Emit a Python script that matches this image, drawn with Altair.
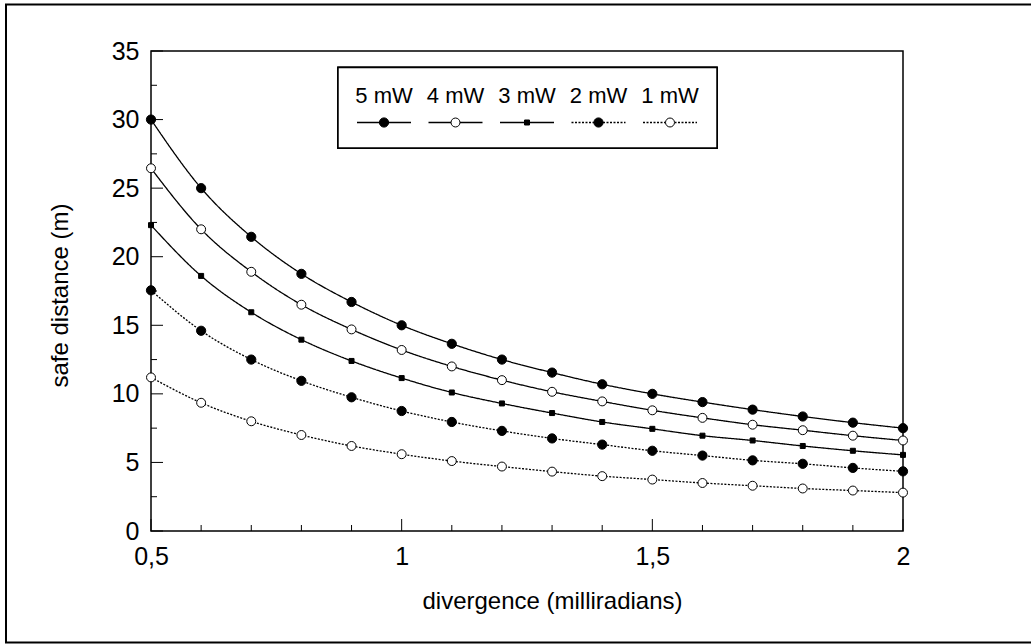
import altair as alt
import pandas as pd

# ---- data ----
divergence = [0.5, 0.6, 0.7, 0.8, 0.9, 1.0, 1.1, 1.2, 1.3, 1.4, 1.5, 1.6, 1.7, 1.8, 1.9, 2.0]
p5 = [30.0, 25.0, 21.45, 18.75, 16.7, 15.0, 13.65, 12.5, 11.55, 10.7, 10.0, 9.4, 8.85, 8.35, 7.9, 7.5]
p4 = [26.45, 22.0, 18.9, 16.5, 14.7, 13.2, 12.0, 11.0, 10.15, 9.45, 8.8, 8.25, 7.75, 7.35, 6.95, 6.6]
p3 = [22.3, 18.6, 15.95, 13.95, 12.4, 11.15, 10.1, 9.3, 8.6, 7.95, 7.45, 6.95, 6.6, 6.2, 5.85, 5.55]
p2 = [17.55, 14.6, 12.5, 10.95, 9.75, 8.75, 7.95, 7.3, 6.75, 6.3, 5.85, 5.5, 5.15, 4.9, 4.6, 4.35]
p1 = [11.2, 9.35, 8.0, 7.0, 6.2, 5.6, 5.1, 4.7, 4.33, 4.0, 3.75, 3.5, 3.3, 3.1, 2.95, 2.8]
series = ["5 mW", "4 mW", "3 mW", "2 mW", "1 mW"]

x_label_values = [0.5, 1.0, 1.5, 2.0]
x_minor_ticks = [0.6, 0.7, 0.8, 0.9, 1.1, 1.2, 1.3, 1.4, 1.6, 1.7, 1.8, 1.9]
y_label_values = [0, 5, 10, 15, 20, 25, 30, 35]
y_minor_ticks = [2.5, 7.5, 12.5, 17.5, 22.5, 27.5, 32.5]

FONT = "Liberation Sans"
W, H = 752, 480

rows = []
for name, vals in zip(series, [p5, p4, p3, p2, p1]):
    for xv, yv in zip(divergence, vals):
        rows.append({"div": xv, "dist": yv, "series": name})
df = pd.DataFrame(rows)
leg_df = pd.DataFrame({"series": series, "slot": list(range(len(series)))})

dash_scale = alt.Scale(domain=series, range=[[1, 0], [1, 0], [1, 0], [2, 1.5], [2, 1.5]])
shape_scale = alt.Scale(domain=series, range=["circle", "circle", "square", "circle", "circle"])
fill_scale = alt.Scale(domain=series, range=["black", "white", "black", "black", "white"])
size_scale = alt.Scale(type="ordinal", domain=series, range=[85, 80, 25, 85, 80])

xscale = alt.Scale(domain=[0.5, 2.0], nice=False, zero=False)
yscale = alt.Scale(domain=[0, 35], nice=False)

x_axis = alt.Axis(
    values=x_label_values, format=".1~f", labelExpr="replace(datum.label, '.', ',')",
    ticks=False, tickSize=0, domain=False, grid=False,
    labelFont=FONT, labelFontSize=25, labelColor="black", labelPadding=13,
    labelFlush=False, labelOverlap=False,
    title="divergence (milliradians)", titleFont=FONT, titleFontSize=24,
    titleFontWeight="normal", titleColor="black", titleX=401, titleY=77,
    titleBaseline="alphabetic",
)
y_axis = alt.Axis(
    values=y_label_values, format="d", ticks=False, tickSize=0, domain=False, grid=False,
    labelFont=FONT, labelFontSize=25, labelColor="black", labelPadding=12,
    labelFlush=False, labelOverlap=False,
    title="safe distance (m)", titleFont=FONT, titleFontSize=24,
    titleFontWeight="normal", titleColor="black", titleX=-84, titleY=244,
    titleBaseline="alphabetic", titleAngle=-90,
)

lines = alt.Chart(df).mark_line(color="black", strokeWidth=1.3, interpolate="monotone").encode(
    x=alt.X("div:Q", scale=xscale, axis=x_axis),
    y=alt.Y("dist:Q", scale=yscale, axis=y_axis),
    detail="series:N",
    strokeDash=alt.StrokeDash("series:N", scale=dash_scale, legend=None),
)
points = alt.Chart(df).mark_point(filled=True, stroke="black", strokeWidth=1, opacity=1, fillOpacity=1).encode(
    x=alt.X("div:Q", scale=xscale),
    y=alt.Y("dist:Q", scale=yscale),
    fill=alt.Fill("series:N", scale=fill_scale, legend=None),
    shape=alt.Shape("series:N", scale=shape_scale, legend=None),
    size=alt.Size("series:N", scale=size_scale, legend=None),
)

def xticks(vals, length):
    return alt.Chart(pd.DataFrame({"v": vals})).mark_rule(color="black", strokeWidth=1).encode(
        x=alt.X("v:Q", scale=xscale), y=alt.value(H), y2=alt.value(H - length))

def yticks(vals, length):
    return alt.Chart(pd.DataFrame({"v": vals})).mark_rule(color="black", strokeWidth=1).encode(
        y=alt.Y("v:Q", scale=yscale), x=alt.value(0), x2=alt.value(length))

main = alt.layer(
    xticks(x_label_values, 12), xticks(x_minor_ticks, 6),
    yticks(y_label_values, 12), yticks(y_minor_ticks, 6),
    lines, points,
)

# ---- custom legend (labels above symbols) ----
leg_x = alt.Scale(domain=[0, len(series) - 1], range=[233, 519], nice=False, zero=False)
leg_box = alt.Chart(leg_df).mark_rect(fill="white", stroke="black", strokeWidth=1.5).encode(
    x=alt.value(187), x2=alt.value(566), y=alt.value(16.5), y2=alt.value(97))
leg_text = alt.Chart(leg_df).mark_text(font=FONT, fontSize=22, color="black", baseline="alphabetic", align="center").encode(
    x=alt.X("slot:Q", scale=leg_x, axis=None), y=alt.value(52), text="series:N")
leg_lines = alt.Chart(leg_df).mark_rule(color="black", strokeWidth=1.3, xOffset=-27, x2Offset=27).encode(
    x=alt.X("slot:Q", scale=leg_x, axis=None), x2="slot:Q", y=alt.value(71.5),
    strokeDash=alt.StrokeDash("series:N", scale=dash_scale, legend=None))
leg_pts = alt.Chart(leg_df).mark_point(filled=True, stroke="black", strokeWidth=1, opacity=1, fillOpacity=1).encode(
    x=alt.X("slot:Q", scale=leg_x, axis=None), y=alt.value(71.5),
    fill=alt.Fill("series:N", scale=fill_scale, legend=None),
    shape=alt.Shape("series:N", scale=shape_scale, legend=None),
    size=alt.Size("series:N", scale=size_scale, legend=None))

# outer figure border
border = alt.Chart(leg_df.head(1)).mark_rect(fill=None, stroke="black", strokeWidth=2).encode(
    x=alt.value(-145), x2=alt.value(1000), y=alt.value(-46.5), y2=alt.value(591.5))

legend = alt.layer(leg_box, leg_lines, leg_pts, leg_text, border)

chart = alt.layer(main, legend).resolve_scale(x="independent").properties(
    width=W, height=H,
    padding={"left": 151, "top": 51, "right": 128, "bottom": 113},
    autosize=alt.AutoSizeParams(type="none"),
    background="white",
).configure_view(stroke="black", strokeWidth=1.5)

chart.save("out.html", embed_options={"renderer": "svg", "actions": False})
